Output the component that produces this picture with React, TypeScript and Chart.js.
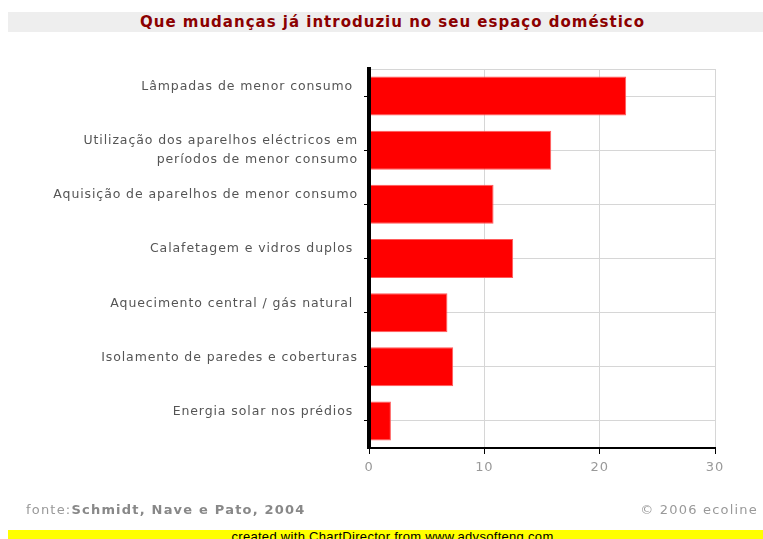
import React, { useEffect, useRef } from "react";
import { Chart, registerables } from "chart.js";

Chart.register(...registerables);

const TITLE = "Que mudanças já introduziu no seu espaço doméstico";
const categories = [
  "Lâmpadas de menor consumo ",
  "Utilização dos aparelhos eléctricos em\nperíodos de menor consumo",
  "Aquisição de aparelhos de menor consumo",
  "Calafetagem e vidros duplos ",
  "Aquecimento central / gás natural ",
  "Isolamento de paredes e coberturas",
  "Energia solar nos prédios ",
];
const values = [22.3, 15.8, 10.8, 12.5, 6.8, 7.3, 1.9];
const xTicks = [0, 10, 20, 30];

const FONT = "'DejaVu Sans', Verdana, sans-serif";

export default function App() {
  const ref = useRef<HTMLCanvasElement>(null);
  useEffect(() => {
    if (!ref.current) return;
    const labels = categories.map((c) => (c.includes("\n") ? c.split("\n") : [c, ""]));
    const topBorder = {
      id: "topBorder",
      beforeDatasetsDraw(chart: any) {
        const { ctx, chartArea } = chart;
        ctx.save();
        ctx.strokeStyle = "#d6d6d6";
        ctx.lineWidth = 1;
        ctx.beginPath();
        ctx.moveTo(chartArea.left, chartArea.top + 0.5);
        ctx.lineTo(chartArea.right, chartArea.top + 0.5);
        ctx.stroke();
        ctx.restore();
      },
    };
    const spacing = {
      id: "spacing",
      beforeDraw(chart: any) {
        chart.ctx.letterSpacing = "0.9px";
      },
    };
    const chart = new Chart(ref.current, {
      type: "bar",
      data: {
        labels,
        datasets: [
          {
            data: values,
            backgroundColor: "#ff0000",
            borderColor: "#ff5a5a",
            borderWidth: 1,
            barPercentage: 0.72,
            categoryPercentage: 1,
          },
        ],
      },
      options: {
        indexAxis: "y",
        responsive: false,
        animation: false,
        layout: { padding: { top: 69, right: 48, left: 0, bottom: 0 } },
        plugins: {
          legend: { display: false },
          title: { display: false },
          tooltip: { enabled: false },
        },
        scales: {
          x: {
            type: "linear",
            position: "bottom",
            min: xTicks[0],
            max: xTicks[xTicks.length - 1],
            afterBuildTicks: (s: any) => {
              s.ticks = xTicks.map((v) => ({ value: v }));
            },
            ticks: {
              stepSize: 10,
              color: "#999999",
              font: { family: FONT, size: 13 },
              padding: 6,
            },
            grid: { color: "#d6d6d6", tickColor: "#000000", tickLength: 6, lineWidth: 1 },
            border: { color: "#000000", width: 2, z: 1 },
            afterFit: (s: any) => {
              s.height = 91;
            },
          },
          y: {
            ticks: {
              color: "#555555",
              font: { family: FONT, size: 12.5, lineHeight: 1.5 },
              padding: 6,
              autoSkip: false,
            },
            grid: { offset: false, color: "#d6d6d6", tickColor: "#000000", tickLength: 5 },
            border: { color: "#000000", width: 4, z: 1 },
            afterFit: (s: any) => {
              s.width = 369;
            },
          },
        },
      } as any,
      plugins: [topBorder, spacing],
    });
    return () => chart.destroy();
  }, []);

  return (
    <div
      style={{
        position: "absolute",
        left: 0,
        top: 0,
        width: 763,
        height: 539,
        background: "#ffffff",
        overflow: "hidden",
      }}
    >
      <canvas ref={ref} width={763} height={539} style={{ position: "absolute", left: 0, top: 0 }} />
      <div
        style={{
          position: "absolute",
          left: 8,
          top: 12,
          width: 769,
          height: 20,
          background: "#eeeeee",
          textAlign: "center",
          lineHeight: "20px",
          color: "#8b0000",
          fontFamily: FONT,
          fontWeight: "bold",
          fontSize: 15,
          letterSpacing: "1px",
          whiteSpace: "nowrap",
        }}
      >
        {TITLE}
      </div>
      <div
        style={{
          position: "absolute",
          left: 26,
          top: 502,
          fontFamily: FONT,
          fontSize: 13,
          color: "#999999",
          whiteSpace: "nowrap",
          letterSpacing: "1.2px",
        }}
      >
        fonte:<b style={{ color: "#888888" }}>Schmidt, Nave e Pato, 2004</b>
      </div>
      <div
        style={{
          position: "absolute",
          right: 5,
          top: 502,
          fontFamily: FONT,
          fontSize: 13,
          color: "#999999",
          whiteSpace: "nowrap",
          letterSpacing: "1.2px",
        }}
      >
        © 2006 ecoline
      </div>
      <div
        style={{
          position: "absolute",
          left: 8,
          top: 530,
          width: 769,
          height: 12,
          background: "#ffff00",
          overflow: "hidden",
        }}
      >
        <div
          style={{
            position: "absolute",
            left: 0,
            right: 0,
            top: 0,
            textAlign: "center",
            fontFamily: "'Liberation Sans', Arial, sans-serif",
            fontSize: 13,
            letterSpacing: "0.3px",
            lineHeight: "14px",
            color: "#000000",
            whiteSpace: "nowrap",
          }}
        >
          created with ChartDirector from www.advsofteng.com
        </div>
      </div>
    </div>
  );
}
